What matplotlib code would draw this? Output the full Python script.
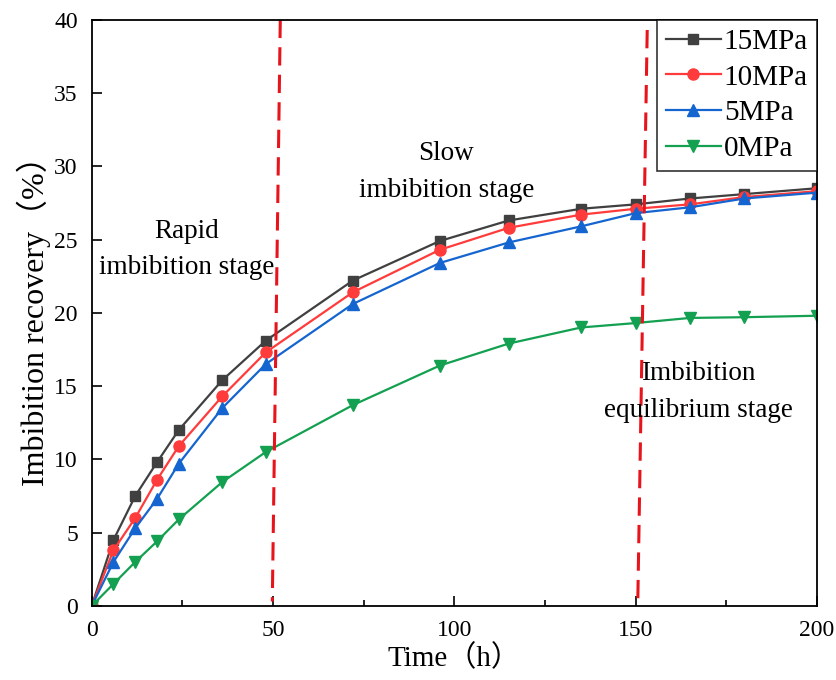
import numpy as np
import matplotlib.pyplot as plt

plt.rcParams['font.family'] = ['Liberation Serif', 'Noto Sans CJK SC']

# imbibition time (h)
time = [0, 6, 12, 18, 24, 36, 48, 72, 96, 115, 135, 150, 165, 180, 200]

# imbibition recovery (%) at each pressure
rec_15 = [0, 4.5, 7.5, 9.8, 12.0, 15.4, 18.1, 22.2, 24.9, 26.3, 27.1, 27.4, 27.8, 28.1, 28.5]
rec_10 = [0, 3.8, 6.0, 8.6, 10.9, 14.3, 17.3, 21.4, 24.3, 25.8, 26.7, 27.1, 27.4, 27.9, 28.3]
rec_5 = [0, 3.0, 5.3, 7.3, 9.7, 13.5, 16.5, 20.6, 23.4, 24.8, 25.9, 26.8, 27.2, 27.8, 28.2]
rec_0 = [0, 1.5, 3.0, 4.4, 5.9, 8.45, 10.5, 13.7, 16.4, 17.9, 19.0, 19.3, 19.65, 19.7, 19.8]

fig = plt.figure(figsize=(8.37, 6.80), dpi=100)
ax = fig.add_axes([0.1096, 0.109, 0.8664, 0.862])

ax.plot(time, rec_15, color='#404040', marker='s', markersize=7, lw=1.6, label='15MPa')
ax.plot(time, rec_10, color='#ff3b3b', marker='o', markersize=8, lw=1.6, label='10MPa')
ax.plot(time, rec_5, color='#1565d0', marker='^', markersize=8, lw=1.6, label='5MPa')
ax.plot(time, rec_0, color='#13a050', marker='v', markersize=8, lw=1.6, label='0MPa')

# stage boundaries (slightly slanted, as drawn in the original)
ax.plot([52, 49.8], [40, 0.3], color='#e8141c', lw=2.2, dashes=(6, 3))
ax.plot([153.2, 150.6], [39.3, 0.3], color='#e8141c', lw=2.2, dashes=(6, 3))

ax.text(26.2, 24.3, 'Rapid\nimbibition stage', fontsize=19.5, ha='center', va='center',
        linespacing=1.6)
ax.text(97.8, 29.6, 'Slow\nimbibition stage', fontsize=19.5, ha='center', va='center',
        linespacing=1.6)
ax.text(167.2, 14.6, 'Imbibition\nequilibrium stage', fontsize=19.5, ha='center', va='center',
        linespacing=1.6)

ax.set_xlim(0, 200)
ax.set_ylim(0, 40)
ax.set_xticks([0, 50, 100, 150, 200])
ax.set_xticks([25, 75, 125, 175], minor=True)
ax.set_yticks(range(0, 41, 5))
ax.tick_params(direction='in', which='major', length=7, width=1.2, labelsize=17)
ax.tick_params(direction='in', which='minor', length=4, width=1.2)
ax.tick_params(axis='x', which='major', pad=10)
ax.tick_params(axis='y', which='major', pad=10)
for s in ax.spines.values():
    s.set_linewidth(1.3)

ax.set_xlabel('Time（h）', fontsize=21, labelpad=3)
ax.set_ylabel('Imbibition recovery（%）', fontsize=23, labelpad=2)

leg = ax.legend(loc='upper right', fontsize=21, frameon=True, fancybox=False,
                edgecolor='black', borderaxespad=0, handlelength=1.9,
                handletextpad=0.1, labelspacing=0.32, borderpad=0.3)
leg.get_frame().set_linewidth(1.2)

fig.savefig('out.png', dpi=100)
